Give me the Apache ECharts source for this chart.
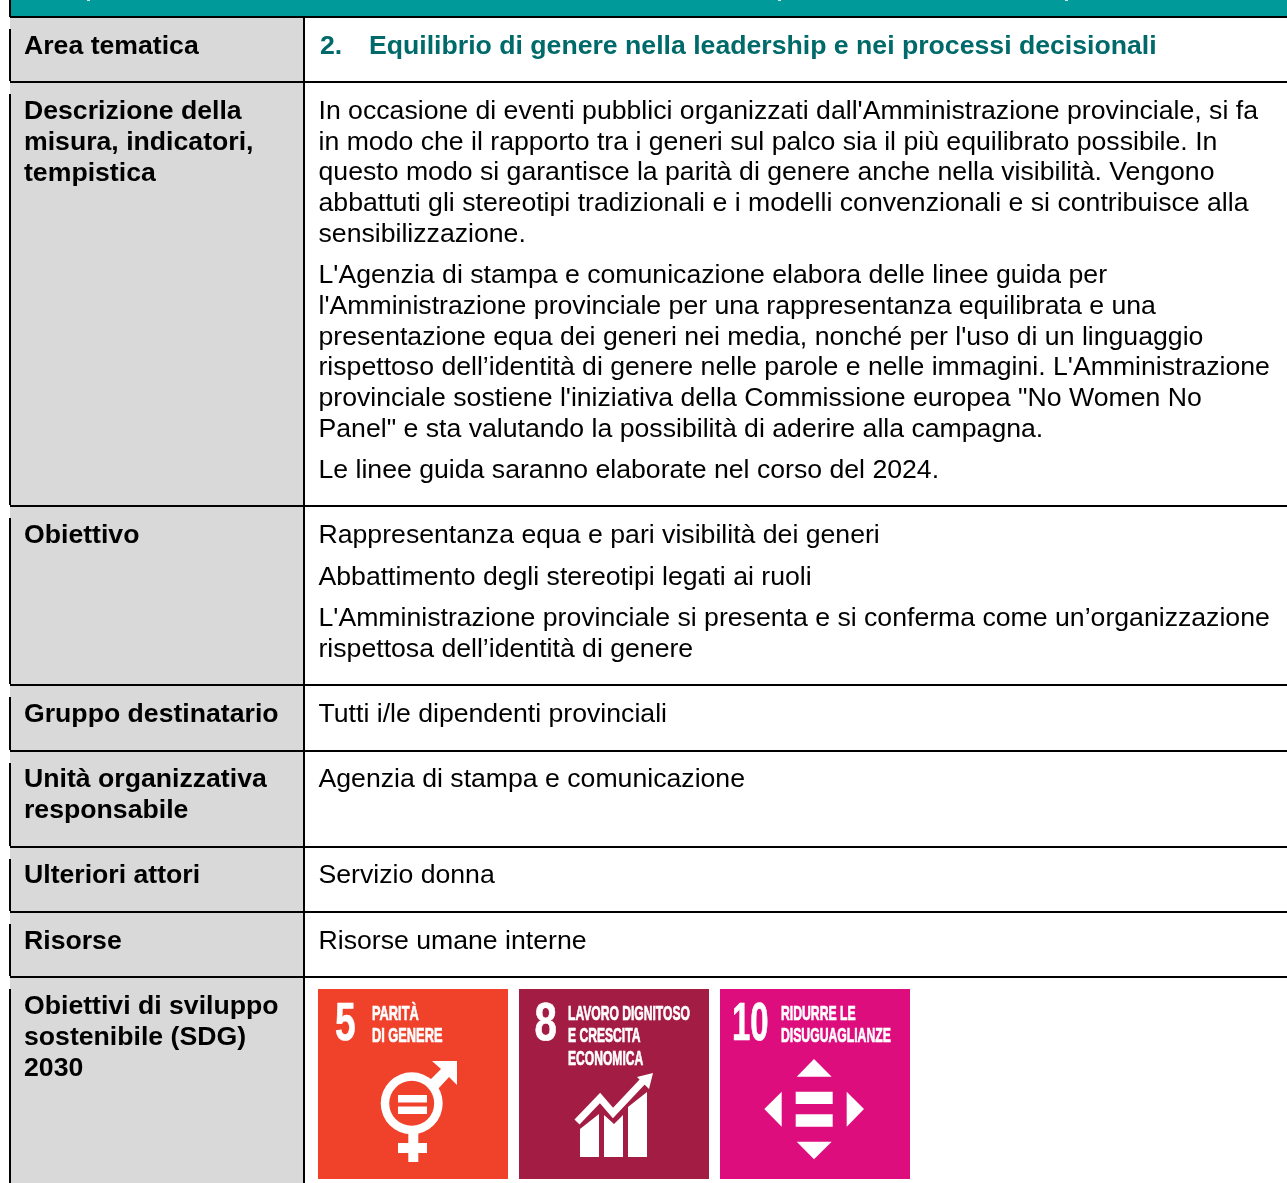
<!DOCTYPE html>
<html>
<head>
<meta charset="utf-8">
<style>
  html, body { margin: 0; padding: 0; background: #fff; }
  #chart { width: 1287px; height: 1183px; }
</style>
</head>
<body>
<div id="chart"></div>
<script src="https://cdn.jsdelivr.net/npm/echarts@6/dist/echarts.min.js"></script>
<script>
// table text
const titleNumber = '2.'
const titleText = 'Equilibrio di genere nella leadership e nei processi decisionali'
const leftLabels = [
  ['Area tematica'],
  ['Descrizione della', 'misura, indicatori,', 'tempistica'],
  ['Obiettivo'],
  ['Gruppo destinatario'],
  ['Unità organizzativa', 'responsabile'],
  ['Ulteriori attori'],
  ['Risorse'],
  ['Obiettivi di sviluppo', 'sostenibile (SDG)', '2030'],
]
const bodyLines = [
  'In occasione di eventi pubblici organizzati dall\'Amministrazione provinciale, si fa',
  'in modo che il rapporto tra i generi sul palco sia il più equilibrato possibile. In',
  'questo modo si garantisce la parità di genere anche nella visibilità. Vengono',
  'abbattuti gli stereotipi tradizionali e i modelli convenzionali e si contribuisce alla',
  'sensibilizzazione.',
  'L\'Agenzia di stampa e comunicazione elabora delle linee guida per',
  'l\'Amministrazione provinciale per una rappresentanza equilibrata e una',
  'presentazione equa dei generi nei media, nonché per l\'uso di un linguaggio',
  'rispettoso dell’identità di genere nelle parole e nelle immagini. L\'Amministrazione',
  'provinciale sostiene l\'iniziativa della Commissione europea "No Women No',
  'Panel" e sta valutando la possibilità di aderire alla campagna.',
  'Le linee guida saranno elaborate nel corso del 2024.',
  'Rappresentanza equa e pari visibilità dei generi',
  'Abbattimento degli stereotipi legati ai ruoli',
  'L\'Amministrazione provinciale si presenta e si conferma come un’organizzazione',
  'rispettosa dell’identità di genere',
  'Tutti i/le dipendenti provinciali',
  'Agenzia di stampa e comunicazione',
  'Servizio donna',
  'Risorse umane interne',
]
const sdgNumbers = ['5', '8', '10']
const sdgTitles = [
  ['PARITÀ', 'DI GENERE'],
  ['LAVORO DIGNITOSO', 'E CRESCITA', 'ECONOMICA'],
  ['RIDURRE LE', 'DISUGUAGLIANZE'],
]
const sdgColors = ['#f0412b', '#a31c44', '#dd0d7e']

// layout
const rowTops = [16, 81, 505, 684, 750, 846, 911, 976]
const leftLineY = [
  [45], [110, 141, 172], [534], [713], [778, 809], [874], [940], [1005, 1036, 1067],
]
const bodyLineY = [110, 141, 171, 202, 233, 274, 305, 336, 366, 397, 428, 469, 534, 576, 617, 648, 713, 778, 874, 940]
const iconX = [318, 519, 720]
const iconTop = 989
const iconSize = 190
const colX = 304
const tableLeft = 10
const W = 1287
const H = 1183
const FONT = '"Liberation Sans", Arial, sans-serif'
const SIZE = 26.65

const g = []

function rect(x, y, w, h, fill) {
  g.push({ type: 'rect', shape: { x: x, y: y, width: w, height: h }, style: { fill: fill } })
}
function poly(points, fill) {
  g.push({ type: 'polygon', shape: { points: points }, style: { fill: fill } })
}
function label(text, x, y, size, weight, fill) {
  g.push({
    type: 'text',
    style: {
      x: x, y: y, text: text, fill: fill,
      font: weight + ' ' + size + 'px ' + FONT,
      textAlign: 'left', textVerticalAlign: 'middle',
    },
  })
}
// condensed white lettering on the SDG tiles
function narrow(text, x, y, size, sx) {
  g.push({
    type: 'text', x: x, y: y, scaleX: sx,
    style: {
      x: 0, y: 0, text: text, fill: '#fff', stroke: '#fff', lineWidth: 0.7,
      font: 'bold ' + size + 'px ' + FONT,
      textAlign: 'left', textVerticalAlign: 'middle',
    },
  })
}

// header band and left column
rect(0, 0, W, H, '#fff')
rect(tableLeft + 1, 0, W, 17, '#009a9a')
rect(87, 0, 3, 1, '#cfe6e6')
rect(778, 0, 3, 1, '#cfe6e6')
rect(1065, 0, 3, 1, '#cfe6e6')
rect(tableLeft, 17, colX - tableLeft, H - 17, '#d9d9d9')

// rules: the left border breaks for a few px under each row line
rect(9, 0, 2, 17, '#000')
rowTops.forEach(function (y, i) {
  rect(tableLeft, y, W, 2, '#000')
  const end = i + 1 < rowTops.length ? rowTops[i + 1] : H
  rect(9, y + 13, 2, end - y - 13, '#000')
})
rect(colX - 1, 16, 2, H - 16, '#000')

// text
leftLabels.forEach(function (lines, i) {
  lines.forEach(function (t, j) {
    label(t, 24, leftLineY[i][j] + 2, SIZE, 'bold', '#000')
  })
})
label(titleNumber, 320, 47, SIZE, 'bold', '#006a6a')
label(titleText, 369, 47, SIZE, 'bold', '#006a6a')
bodyLines.forEach(function (t, i) {
  label(t, 318.5, bodyLineY[i] + 2, SIZE, 'normal', '#000')
})

// SDG tiles
iconX.forEach(function (x, i) {
  rect(x, iconTop, iconSize, iconSize, sdgColors[i])
})
narrow(sdgNumbers[0], 335, 1025, 53, 0.7)
narrow(sdgNumbers[1], 534.5, 1025, 53, 0.76)
narrow(sdgNumbers[2], 732, 1025, 53, 0.62)
const titleY = [1014, 1036, 1059]
const titleScale = [0.64, 0.605, 0.61]
const titleX = [372, 568, 781]
sdgTitles.forEach(function (lines, i) {
  lines.forEach(function (t, j) {
    narrow(t, titleX[i], titleY[j], 20, titleScale[i])
  })
})

// gender symbol
g.push({ type: 'ring', shape: { cx: 411.7, cy: 1103.3, r: 31, r0: 22.5 }, style: { fill: '#fff' } })
rect(398, 1095, 29, 7.5, '#fff')
rect(398, 1106.5, 29, 7.5, '#fff')
rect(408.3, 1132, 10, 30, '#fff')
rect(398, 1143, 29, 10, '#fff')
poly([[432, 1061], [457, 1061], [457, 1085], [449, 1077], [438, 1089], [430, 1080], [441, 1069]], '#fff')

// growth chart
poly([[580, 1129], [599, 1114], [599, 1157], [580, 1157]], '#fff')
poly([[604, 1115], [614, 1124], [623, 1115], [623, 1157], [604, 1157]], '#fff')
poly([[628, 1107], [647, 1092], [647, 1157], [628, 1157]], '#fff')
g.push({
  type: 'polyline',
  shape: { points: [[577, 1122], [600, 1098], [613, 1113], [645, 1079]] },
  style: { stroke: '#fff', lineWidth: 7, fill: null },
})
poly([[637, 1077], [653, 1073], [649, 1089]], '#fff')

// arrows and equals
poly([[796.7, 1076.7], [814, 1059], [831.7, 1076.7]], '#fff')
poly([[796.7, 1141.7], [814, 1159.3], [831.7, 1141.7]], '#fff')
poly([[781.7, 1091.7], [764.3, 1109], [781.7, 1126.7]], '#fff')
poly([[846.7, 1091.7], [864, 1109], [846.7, 1126.7]], '#fff')
rect(795.7, 1091.7, 37, 12.3, '#fff')
rect(795.7, 1114.3, 37, 12.4, '#fff')

const chart = echarts.init(document.getElementById('chart'))
chart.setOption({ animation: false, graphic: { elements: g } })
</script>
</body>
</html>
